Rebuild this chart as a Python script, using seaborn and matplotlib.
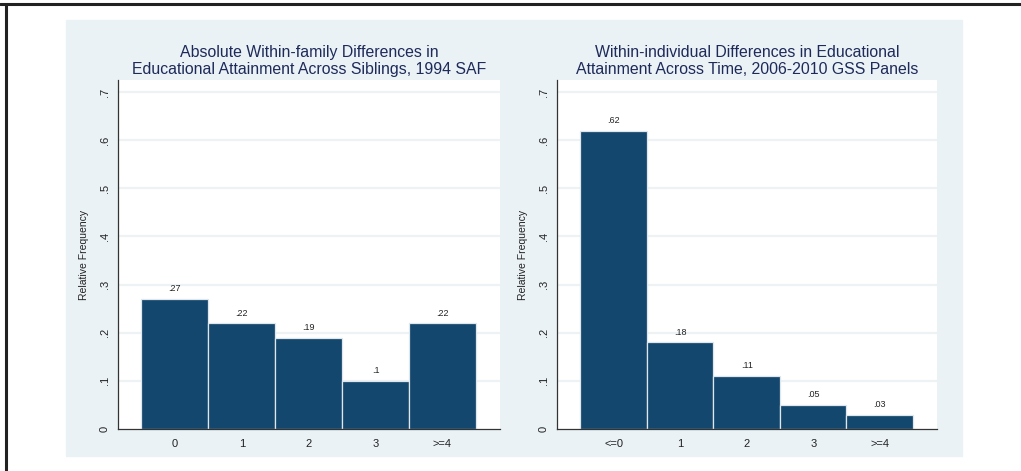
import matplotlib
matplotlib.use("Agg")
import matplotlib.pyplot as plt
import seaborn as sns
from matplotlib.patches import Rectangle
from matplotlib.lines import Line2D

# data
sib_cats = ["0", "1", "2", "3", ">=4"]
sib_vals = [0.27, 0.22, 0.19, 0.10, 0.22]
gss_cats = ["<=0", "1", "2", "3", ">=4"]
gss_vals = [0.62, 0.18, 0.11, 0.05, 0.03]
yticks = [0, 0.1, 0.2, 0.3, 0.4, 0.5, 0.6, 0.7]
titles = ["Absolute Within-family Differences in\nEducational Attainment Across Siblings, 1994 SAF",
          "Within-individual Differences in Educational\nAttainment Across Time, 2006-2010 GSS Panels"]

sns.set_style("white")
plt.rcParams["font.family"] = ["Liberation Sans", "DejaVu Sans"]

bar_col = "#13476e"
grid_col = "#edf3f5"
panel_col = "#eaf2f5"
title_col = "#1e2a5a"

def stata_num(v):
    s = ("%g" % v)
    return s[1:] if s.startswith("0.") else s

fig = plt.figure(figsize=(10.21, 4.71), dpi=100)

# outer frame (top and left) and light panel
fig.add_artist(Line2D([0, 1], [1 - 4/471, 1 - 4/471], color="#222222", lw=2.2))
fig.add_artist(Line2D([6/1021, 6/1021], [0, 1 - 4/471], color="#222222", lw=2.2))
fig.add_artist(Rectangle((66/1021, 15/471), 896/1021, 436/471, color=panel_col, zorder=0))

ax1 = fig.add_axes([118/1021, 42/471, 382/1021, 349/471])
ax2 = fig.add_axes([557/1021, 42/471, 380/1021, 349/471])

for ax, cats, vals, title in [(ax1, sib_cats, sib_vals, titles[0]),
                              (ax2, gss_cats, gss_vals, titles[1])]:
    ax.set_facecolor("white")
    for t in yticks[1:]:
        ax.axhline(t, color=grid_col, lw=1.6, zorder=0)
    sns.barplot(x=cats, y=vals, ax=ax, order=cats, color=bar_col, saturation=1,
                width=1, edgecolor="#dfe7ec", linewidth=0.9, zorder=2)
    ax.bar_label(ax.containers[0], labels=[stata_num(v) for v in vals],
                 padding=4, fontsize=6.5, color="#222222")
    ax.set_xlim(-0.85, 4.86)
    ax.set_ylim(0, 0.725)
    ax.set_yticks(yticks)
    ax.set_yticklabels([stata_num(t) for t in yticks], rotation=90, va="center")
    ax.tick_params(axis="y", length=4, width=0.8, color="#333333", labelsize=8,
                   pad=2, labelcolor="#222222")
    ax.tick_params(axis="x", length=0, labelsize=8, pad=7, labelcolor="#222222")
    ax.set_xlabel("")
    ax.set_ylabel("Relative Frequency", fontsize=7.5, labelpad=8, color="#222222")
    for side in ["top", "right"]:
        ax.spines[side].set_visible(False)
    for side in ["left", "bottom"]:
        ax.spines[side].set_color("#333333")
        ax.spines[side].set_linewidth(0.9)
    pos = ax.get_position()
    fig.text((pos.x0 + pos.x1) / 2, 1 - 61/471, title, ha="center", va="center",
             fontsize=11.4, color=title_col, linespacing=1.1)

fig.savefig("out.png", dpi=100)
